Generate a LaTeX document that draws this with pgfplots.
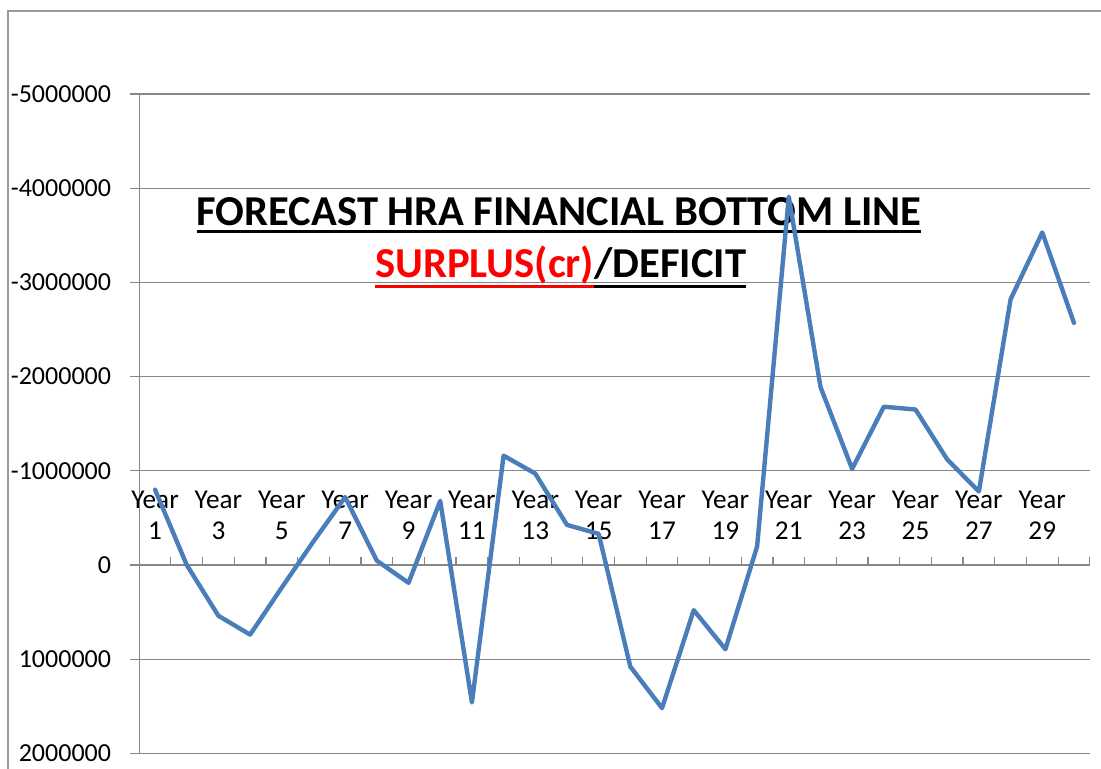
\documentclass[border=0pt]{standalone}
\usepackage{pgfplots}
\usepackage{pgfplotstable}
\pgfplotsset{compat=1.18}
\usepackage{fontspec}
\setmainfont{Carlito}
\definecolor{lineblue}{HTML}{4A7EBB}
\definecolor{gridgray}{HTML}{878787}
\definecolor{framegray}{HTML}{9A9A9A}
\definecolor{titlered}{HTML}{FF0000}
\newcommand\ulA[2]{\setbox0\hbox{#2}\rlap{\rule[#1]{\wd0}{1.3pt}}\box0}
\pgfplotstableread{
year value
1 -800000
2 0
3 540000
4 740000
5 240000
6 -250000
7 -720000
8 -45000
9 190000
10 -680000
11 1460000
12 -1160000
13 -970000
14 -425000
15 -330000
16 1080000
17 1520000
18 480000
19 895000
20 -195000
21 -3910000
22 -1890000
23 -1020000
24 -1680000
25 -1650000
26 -1120000
27 -780000
28 -2820000
29 -3530000
30 -2570000
}\datatable
\begin{document}
\begin{tikzpicture}
\useasboundingbox (-69.6pt,-7.85pt) rectangle (480.9pt,376.65pt);
\draw[framegray, line width=0.8pt] (-65.6pt,-7.85pt) -- (-65.6pt,371.15pt) -- (480.9pt,371.15pt);
\begin{axis}[
  at={(0,0)}, anchor=south west,
  scale only axis, width=475.3pt, height=329.65pt,
  xmin=0.5, xmax=30.5, ymin=-5000000, ymax=2000000, y dir=reverse,
  axis x line=middle, axis y line=left,
  axis line style={-, gridgray, line width=0.6pt},
  x axis line style={draw=none},
  every outer y axis line/.append style={-},
  scaled y ticks=false,
  tick align=center,
  ytick={-5000000,-4000000,-3000000,-2000000,-1000000,0,1000000,2000000},
  yticklabels={-5000000,-4000000,-3000000,-2000000,-1000000,0,1000000,2000000},
  ymajorgrids, major grid style={gridgray, line width=0.6pt},
  major tick length=4.5pt,
  major y tick style={gridgray, line width=0.6pt, xshift=-2.25pt},
  xtick={1,3,...,29},
  xticklabels={{Year\\1},{Year\\3},{Year\\5},{Year\\7},{Year\\9},{Year\\11},{Year\\13},{Year\\15},{Year\\17},{Year\\19},{Year\\21},{Year\\23},{Year\\25},{Year\\27},{Year\\29}},
  major x tick style={draw=none},
  minor xtick={0.5,1.5,...,30.5},
  minor tick length=4pt,
  minor x tick style={gridgray, line width=0.6pt, yshift=2pt},
  x tick label style={align=center, font=\fontsize{13.6}{15.5}\selectfont, anchor=south, yshift=11.2pt},
  y tick label style={font=\fontsize{13}{15.5}\selectfont, anchor=east, xshift=-8.3pt},
]
\node[anchor=base, font=\fontsize{21.3}{25}\selectfont\bfseries, inner sep=0pt] at (axis cs:13.75,-3600000) {\ulA{-3.6pt}{FORECAST HRA FINANCIAL BOTTOM LINE}};
\node[anchor=base, font=\fontsize{21.3}{25}\selectfont\bfseries, inner sep=0pt] at (axis cs:13.80,-3057000) {\textcolor{titlered}{\ulA{-5.4pt}{SURPLUS(cr)}}\ulA{-5.4pt}{/DEFICIT}};
\addplot[lineblue, line width=2.2pt, line join=round, line cap=round, mark=none] table[x=year, y=value] {\datatable};
\end{axis}
\end{tikzpicture}
\end{document}
